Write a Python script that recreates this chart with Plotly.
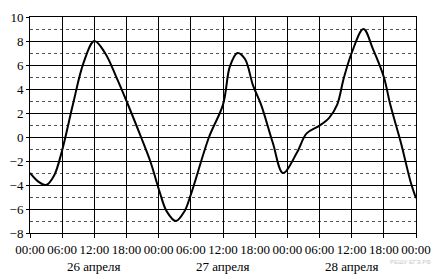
import plotly.graph_objects as go

# hours since 26 April 00:00
hours = [0, 1.5, 3, 4.5, 6, 8, 10, 12, 14, 16, 18, 20.7, 22.5, 24.2, 25.5, 27.2, 28.8, 30,
         33.4, 36, 37.3, 38.7, 40.1, 41.6, 43.1, 45.3, 47.2, 49.8, 51.6, 54, 55.8, 57.3,
         58.5, 60, 62.2, 64, 66, 67.2, 69.2, 71, 72]
temps = [-3, -3.7, -4, -3.2, -1.1, 2.7, 6.2, 8, 7, 5.1, 3, 0, -2.1, -4.6, -6.2, -7, -6.2, -4.8,
         0, 2.7, 5.9, 7, 6.5, 4.3, 2.7, -0.5, -3, -1.3, 0.3, 0.95, 1.6, 2.7,
         4.85, 7, 9, 7.3, 5, 2.7, -0.5, -3.75, -5.1]

tick_hours = list(range(0, 73, 6))
tick_text = ["00:00", "06:00", "12:00", "18:00"] * 3 + ["00:00"]
y_ticks = [-8, -6, -4, -2, 0, 2, 4, 6, 8, 10]
y_minor = [-7, -5, -3, -1, 1, 3, 5, 7, 9]
day_labels = ["26 апреля", "27 апреля", "28 апреля"]
day_centers = [12, 36, 60]

FONT = "Liberation Serif, Times New Roman, serif"

fig = go.Figure()
fig.add_trace(go.Scatter(x=hours, y=temps, mode="lines",
                         line=dict(color="black", width=2, shape="spline", smoothing=1),
                         showlegend=False, hoverinfo="skip"))

for d, c in zip(day_labels, day_centers):
    fig.add_annotation(x=c, y=-0.157, xref="x", yref="paper", text=d, showarrow=False,
                       font=dict(family=FONT, size=13, color="black"), yanchor="middle")

fig.add_annotation(x=1.045, y=-0.135, xref="paper", yref="paper", text="РЕШУ ЕГЭ.РФ",
                   showarrow=False, xanchor="right", yanchor="middle",
                   font=dict(family="Liberation Sans, Arial, sans-serif", size=6, color="#c8c8c8"))

fig.update_layout(
    width=441, height=279,
    margin=dict(l=26, r=19, t=10, b=46),
    paper_bgcolor="white", plot_bgcolor="white",
    font=dict(family=FONT, size=13, color="black"),
    xaxis=dict(range=[0, 72], tickvals=tick_hours, ticktext=tick_text,
               showgrid=True, gridcolor="black", gridwidth=1,
               showline=True, linecolor="black", linewidth=1, mirror=True,
               ticks="outside", ticklen=4, tickcolor="black", tickangle=0,
               zeroline=False, fixedrange=True),
    yaxis=dict(range=[-8, 10], tickvals=y_ticks,
               showgrid=True, gridcolor="black", gridwidth=1,
               showline=True, linecolor="black", linewidth=1, mirror=True,
               ticks="outside", ticklen=3, tickcolor="black",
               zeroline=False, fixedrange=True,
               minor=dict(tickmode="array", tickvals=y_minor, showgrid=True,
                          gridcolor="#555555", griddash="dot", gridwidth=1, ticks="")),
)

fig.write_html("out.html")
